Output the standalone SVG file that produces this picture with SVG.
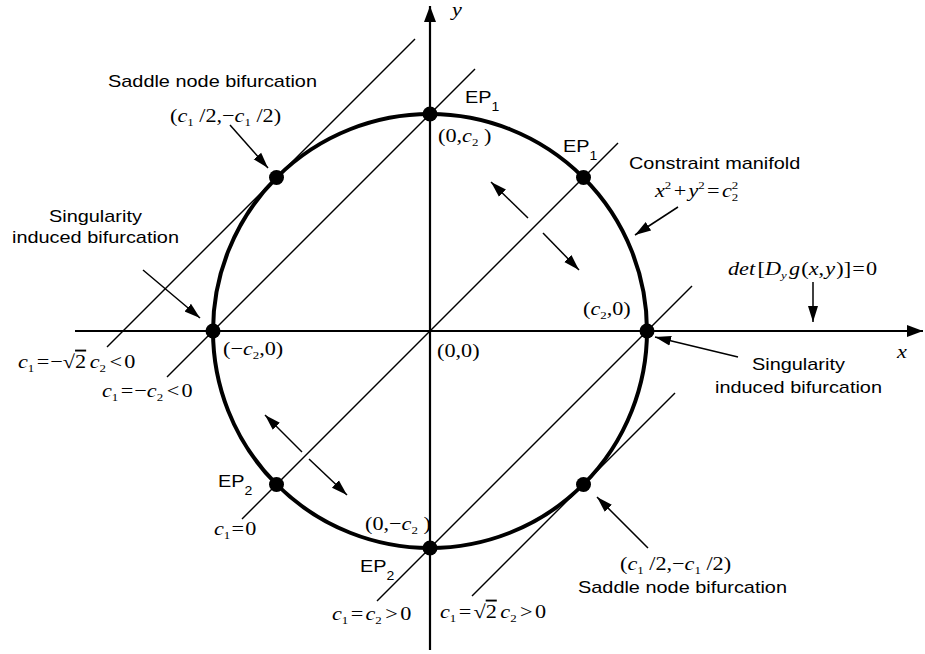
<svg xmlns="http://www.w3.org/2000/svg" width="925" height="654" viewBox="0 0 925 654">
<style>
.t{font-family:"Liberation Sans",Arial,sans-serif;font-size:17px;fill:#000}
.m{font-family:"Liberation Serif","Times New Roman",serif;font-size:19px;fill:#000}
.i{font-style:italic}
.sb{font-size:11px}
.sbt{font-size:12px}
.ax{stroke:#000;stroke-width:2.2;fill:none}
.dg{stroke:#000;stroke-width:1.4;fill:none}
.an{stroke:#000;stroke-width:1.5;fill:none}
.dot{fill:#000}
</style>
<defs>
<marker id="ah" markerUnits="userSpaceOnUse" markerWidth="17" markerHeight="12" refX="16" refY="5" orient="auto" viewBox="0 0 17 10">
<path d="M0,0 L16,5 L0,10 z" fill="#000"/>
</marker>
<marker id="axh" markerUnits="userSpaceOnUse" markerWidth="18" markerHeight="14" refX="16" refY="6" orient="auto" viewBox="0 0 18 12">
<path d="M0,0 L16,6 L0,12 z" fill="#000"/>
</marker>
</defs>
<rect width="925" height="654" fill="#fff"/>

<g id="axes">
<line class="ax" x1="75" y1="331" x2="923" y2="331" marker-end="url(#axh)"/>
<line class="ax" x1="430" y1="650" x2="430" y2="6" marker-end="url(#axh)"/>
</g>

<g id="manifold">
<circle cx="430" cy="331" r="217" fill="none" stroke="#000" stroke-width="4"/>
</g>

<g id="connectors">
<line class="dg" x1="107" y1="347" x2="415" y2="39"/>
<line class="dg" x1="167" y1="377" x2="475" y2="69"/>
<line class="dg" x1="242" y1="519" x2="618" y2="143"/>
<line class="dg" x1="377" y1="601" x2="692" y2="286"/>
<line class="dg" x1="472" y1="596" x2="675" y2="393"/>
<line class="an" x1="230" y1="125" x2="268" y2="168" marker-end="url(#ah)"/>
<line class="an" x1="143" y1="270" x2="200" y2="318" marker-end="url(#ah)"/>
<line class="an" x1="738" y1="357" x2="655" y2="337" marker-end="url(#ah)"/>
<line class="an" x1="813" y1="282" x2="813" y2="322" marker-end="url(#ah)"/>
<line class="an" x1="678" y1="207" x2="635" y2="235" marker-end="url(#ah)"/>
<line class="an" x1="648" y1="548" x2="597" y2="497" marker-end="url(#ah)"/>
<line class="an" x1="528" y1="218" x2="491" y2="182" marker-end="url(#ah)"/>
<line class="an" x1="543" y1="233" x2="579" y2="270" marker-end="url(#ah)"/>
<line class="an" x1="302" y1="452" x2="265" y2="415" marker-end="url(#ah)"/>
<line class="an" x1="309" y1="459" x2="347" y2="495" marker-end="url(#ah)"/>
</g>

<g id="node-ep1-top"><circle class="dot" cx="430" cy="114" r="7.5"/></g>
<g id="node-ep1-right"><circle class="dot" cx="583.5" cy="177.5" r="7.5"/></g>
<g id="node-saddle-top"><circle class="dot" cx="276.5" cy="177.5" r="7.5"/></g>
<g id="node-sib-left"><circle class="dot" cx="213" cy="331" r="7.5"/></g>
<g id="node-sib-right"><circle class="dot" cx="647" cy="331" r="7.5"/></g>
<g id="node-ep2-left"><circle class="dot" cx="276.5" cy="484.5" r="7.5"/></g>
<g id="node-ep2-bottom"><circle class="dot" cx="430" cy="548" r="7.5"/></g>
<g id="node-saddle-bottom"><circle class="dot" cx="583.5" cy="484.5" r="7.5"/></g>

<g id="labels">
<text class="t" transform="matrix(1.17 0 0 1 108 87)">Saddle node bifurcation</text>
<text class="m" transform="matrix(1.17 0 0 1 170 122)">(<tspan class="i">c</tspan><tspan class="sb" dy="4">1</tspan><tspan dy="-4"> /2,−</tspan><tspan class="i">c</tspan><tspan class="sb" dy="4">1</tspan><tspan dy="-4"> /2)</tspan></text>

<text class="t" transform="matrix(1.17 0 0 1 465 103)">EP<tspan class="sbt" dy="8">1</tspan></text>
<text class="m" transform="matrix(1.17 0 0 1 438 142)">(0,<tspan class="i">c</tspan><tspan class="sb" dy="4">2</tspan><tspan dy="-4"> )</tspan></text>
<text class="t" transform="matrix(1.17 0 0 1 563 152)">EP<tspan class="sbt" dy="8">1</tspan></text>

<text class="t" transform="matrix(1.17 0 0 1 629 169)">Constraint manifold</text>
<text class="m" transform="matrix(1.17 0 0 1 655 197)"><tspan class="i">x</tspan><tspan class="sb" dy="-8">2</tspan><tspan dy="8" dx="2">+</tspan><tspan class="i" dx="2">y</tspan><tspan class="sb" dy="-8">2</tspan><tspan dy="8" dx="2">=</tspan><tspan class="i" dx="2">c</tspan><tspan class="sb" dy="4">2</tspan><tspan class="sb" dx="-5.5" dy="-12">2</tspan></text>

<text class="t" transform="matrix(1.17 0 0 1 49 222)">Singularity</text>
<text class="t" transform="matrix(1.17 0 0 1 12 243)">induced bifurcation</text>

<text class="m" transform="matrix(1.17 0 0 1 18 368)"><tspan class="i">c</tspan><tspan class="sb" dy="4">1</tspan><tspan dy="-4" dx="2">=</tspan><tspan dx="1">−√</tspan><tspan style="text-decoration:overline">2</tspan><tspan class="i" dx="3">c</tspan><tspan class="sb" dy="4">2</tspan><tspan dy="-4" dx="3">&lt;</tspan><tspan dx="2">0</tspan></text>
<text class="m" transform="matrix(1.17 0 0 1 223 355)">(−<tspan class="i">c</tspan><tspan class="sb" dy="4">2</tspan><tspan dy="-4">,0)</tspan></text>
<text class="m" transform="matrix(1.17 0 0 1 102 397)"><tspan class="i">c</tspan><tspan class="sb" dy="4">1</tspan><tspan dy="-4" dx="2">=</tspan><tspan dx="1">−</tspan><tspan class="i">c</tspan><tspan class="sb" dy="4">2</tspan><tspan dy="-4" dx="3">&lt;</tspan><tspan dx="2">0</tspan></text>

<text class="m" transform="matrix(1.17 0 0 1 583 315)">(<tspan class="i">c</tspan><tspan class="sb" dy="4">2</tspan><tspan dy="-4">,0)</tspan></text>
<text class="m" transform="matrix(1.17 0 0 1 437 357)">(0,0)</text>

<text class="m" transform="matrix(1.17 0 0 1 728 275)"><tspan class="i">det</tspan><tspan dx="2">[</tspan><tspan class="i">D</tspan><tspan class="sb i" dy="4">y</tspan><tspan class="i" dy="-4" dx="2">g</tspan><tspan dx="1">(</tspan><tspan class="i">x</tspan>,<tspan class="i" dx="1">y</tspan><tspan dx="1">)]</tspan><tspan dx="1">=</tspan><tspan dx="1">0</tspan></text>
<text class="m i" transform="matrix(1.17 0 0 1 897 358)">x</text>
<text class="m i" transform="matrix(1.17 0 0 1 452 16)">y</text>

<text class="t" transform="matrix(1.17 0 0 1 752 370)">Singularity</text>
<text class="t" transform="matrix(1.17 0 0 1 715 393)">induced bifurcation</text>

<text class="t" transform="matrix(1.17 0 0 1 218 487)">EP<tspan class="sbt" dy="8">2</tspan></text>
<text class="m" transform="matrix(1.17 0 0 1 214 535)"><tspan class="i">c</tspan><tspan class="sb" dy="4">1</tspan><tspan dy="-4" dx="1">=</tspan><tspan dx="1">0</tspan></text>

<text class="m" transform="matrix(1.17 0 0 1 365 530)">(0,−<tspan class="i">c</tspan><tspan class="sb" dy="4">2</tspan><tspan dy="-4"> )</tspan></text>
<text class="t" transform="matrix(1.17 0 0 1 360 572)">EP<tspan class="sbt" dy="8">2</tspan></text>

<text class="m" transform="matrix(1.17 0 0 1 332 620)"><tspan class="i">c</tspan><tspan class="sb" dy="4">1</tspan><tspan dy="-4" dx="2">=</tspan><tspan class="i" dx="2">c</tspan><tspan class="sb" dy="4">2</tspan><tspan dy="-4" dx="3">&gt;</tspan><tspan dx="2">0</tspan></text>
<text class="m" transform="matrix(1.17 0 0 1 440 618)"><tspan class="i">c</tspan><tspan class="sb" dy="4">1</tspan><tspan dy="-4" dx="2">=</tspan><tspan dx="2">√</tspan><tspan style="text-decoration:overline">2</tspan><tspan class="i" dx="3">c</tspan><tspan class="sb" dy="4">2</tspan><tspan dy="-4" dx="3">&gt;</tspan><tspan dx="2">0</tspan></text>

<text class="m" transform="matrix(1.17 0 0 1 620 570)">(<tspan class="i">c</tspan><tspan class="sb" dy="4">1</tspan><tspan dy="-4"> /2,−</tspan><tspan class="i">c</tspan><tspan class="sb" dy="4">1</tspan><tspan dy="-4"> /2)</tspan></text>
<text class="t" transform="matrix(1.17 0 0 1 578 593)">Saddle node bifurcation</text>
</g>
</svg>
